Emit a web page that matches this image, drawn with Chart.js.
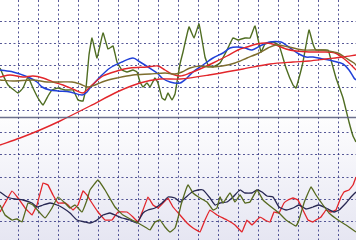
<!DOCTYPE html>
<html><head><meta charset="utf-8">
<script src="https://cdn.jsdelivr.net/npm/chart.js@4"></script>
<style>
html,body{margin:0;padding:0;width:356px;height:240px;overflow:hidden;background:#ffffff;}
canvas{display:block;}
</style></head>
<body><canvas id="c" width="356" height="240"></canvas>
<script>
// Top panel: price and moving averages
const priceX=[0,0.75,2,4.5,5.75,7,8.25,9.5,10.75,12,13,14.5,16.25,18.25,19.5,20.75,21.5,22.25,23,24.25,25.75,27,28.25,29.25,30.5,31.75,33.25,34.25,35,35.75,36.75,37.5,38.75,39.5,40.5,41.25,42,43,43.75,44.25,45,45.75,47.25,48.5,49.75,51.25,52,53.25,55,56.75,58.25,59.5,61.25,62.5,63.75,65.25,66.25,68.25,69.75,71.5,73.25,74,74.75,75.75,77.25,78.25,79,82,82.75,84,85.75,87.25,88.25,89];
const priceY=[86,82.5,77.5,73.5,76,81.5,76,71,67.5,72,75,76,75,75,70,69.5,76,92.5,101,91,103.5,95.5,97,89,85,84,85,84,79,76.5,78.5,76.5,81,78.5,71,70,73.5,70,73,79,88,94,106.5,101,108,91.5,87.5,86.5,88.5,95,101,100,101,101,107,94,98,99,97.5,86,77.5,76,81,89,105,98,95,95,90,81,71,59,52,49];
const fastX=[0,3.25,7,9.25,10.5,12.5,14.5,17.5,20.5,21.75,22.5,25,27.5,30.5,33.25,35,37,39.25,40.5,42.5,45,46.75,48.25,50.75,53.25,55.75,57.5,59.25,61.25,63,65,67.5,70.25,71.5,73.25,74.75,76.5,78.25,80.75,83.25,85.75,87.25,88.5,89];
const fastY=[85,84,81.5,79,76.5,75,74.5,74,72.5,74,76,81.5,86,89,91,89,86.5,83.5,81,79,78.5,81,84,87.5,91,93.5,96,96.5,96,95,97,99,99,97.5,95,93,91.5,91.5,90.5,89.5,88,85,81,80];
const midX=[0,2.5,5.75,8.25,10.75,13.25,15.75,18.75,20.75,21.75,23,25.75,29.25,32.5,36.75,39.5,41.25,43,45,47.5,50,53.25,56.75,59.5,61.75,64.25,66.5,69,71.5,74,77.25,80.75,83.75,85.75,87.25,89];
const midY=[81.5,82.5,81.5,82,81,79,77.5,75,73.5,75,77.5,82,84.5,86,86.5,87,85,83,82,83.5,85.5,88.5,92,95,96.5,98,98.5,97.5,95.5,94.5,94,94,93.5,91,88.5,85];
const slowX=[0,3.25,8.25,11.75,15,18,20,22,23.75,26.25,29.25,33.25,37.5,41.25,43.75,45.5,47.5,50,52.5,55.5,58.75,61.75,64.75,67,69,72.25,75.75,79.75,82.25,84.5,86.5,88.5,89];
const slowY=[80,79.5,80,79,79,79,78,76.5,77.5,79.5,81,82.5,83,83.5,83,84,86,87,86.5,87,88.5,91,93.5,96,97.5,96.5,95,95,94.5,93.5,91,88.5,87.5];
const longX=[0,5,10,15,22.5,29.25,35,40,45,52.25,60.75,67.5,73.25,77.25,81.5,85.75,89];
const longY=[47.5,51,55,59.5,67,74,78.5,80.5,80.5,82.5,85.5,88,89,89.5,90.5,91.5,92.5];
const dividerX=[0,89];
const dividerY=[61.25,61.25];
// Bottom panel: oscillators
const oscNavyX=[0,1.75,3.75,5.75,8,9.25,10.75,12.5,14.25,15.75,17.5,19.25,21.25,22.5,24.25,25.75,27.5,28.75,30.5,32.5,34.25,35.75,37,38.75,40.5,42,43.75,45,46.25,48,49.5,50.75,52.5,53.75,55,56.75,58.25,60,61.25,63,64.25,65.5,66.75,68.25,69.75,71.5,73.25,74.75,76.5,78.25,79.75,81.5,83.5,84.75,86.5,87.75,89];
const oscNavyY=[24,21.5,20.5,20,18.5,16.5,17.5,18.5,17.5,16,13.5,10,9,8.5,10,12.5,13.5,12.5,11,10,8.5,13.5,15,16,18.5,21.5,21,19,21,24,25,25,21,17.5,18.5,19,21.5,25,23.5,23.5,25,24,22,21.5,16.5,15,16,17.5,15.5,16.5,17.5,16,14,15,18.5,21.5,24];
const oscRedX=[0,1.25,3,4.5,6.25,8,9.25,10.75,12,13.25,14.5,16.25,17,18.25,19.5,20.75,21.75,22.5,24.5,26.25,28,29.5,31.75,33.25,34.5,35.75,37,38.25,39.5,40.75,42,43.25,45,46.75,48.25,50,51.25,52.5,54.25,56.75,58.75,60.5,61.75,63,65,66.25,67.5,68.5,69.75,71,72,73.25,74.5,75.75,77,78.25,79,80.25,81.5,82.75,84,85.25,86,87.25,88.25,89];
const oscRedY=[14,18.5,24.5,21,16,12.5,17.5,28.5,27.5,22.5,18.5,18.5,17.5,15,17.5,24.5,22.5,20,14,10,10,14,14,11.5,9,15,21.5,17.5,16,18.5,21,16.5,12.5,8.5,6,4,10,15,12.5,10,7.5,4,10,7.5,11.5,10,9,14,13.5,18.5,20,21,20,15,10,9,10,11.5,15,14,15,21.5,24,25,27.5,31.5];
const oscGreenX=[0,1.25,3,4.25,5.5,7,8.25,10,11.25,13,14.5,16.25,17.5,18.75,20.5,21.75,22.5,24.5,26.25,28.75,30.75,33,34.5,36.25,37.5,38.75,40,41.25,42.5,43.75,44.5,45.25,47,48.25,50,51.75,53.25,54.25,55,55.75,57.5,58.75,60,61.25,62.5,64.25,65.75,67.5,69.75,71.5,74,74.75,76,77.75,79,80.75,82.25,84.5,86.5,89];
const oscGreenY=[17.5,12.5,10,10.5,9,18.5,17.5,13.5,11,16,21.5,18.5,16,17.5,14,20,25,30,25,16.5,12.5,10,8.5,6.5,5,9,10,6.5,4,6,11,17.5,27.5,23.5,21,19,15,16,21.5,18.5,23.5,19,22.5,18.5,19,25,20,17,13.5,10,7,10,18.5,26.5,22.5,17.5,13.5,10,7.5,4];

const pts=(xs,ys)=>xs.map((x,i)=>({x:x,y:ys[i]}));
const ds=(xs,ys,color,w,t)=>({data:pts(xs,ys),borderColor:color,borderWidth:w,pointRadius:0,tension:t,fill:false});

const xGrid=[];for(let k=0;k<17;k++)xGrid.push(4.625+5*k);
const yGrid=[];for(let k=0;k<10;k++)yGrid.push(109.5-11.15*k);
const gridColor='rgba(45,48,125,0.8)';

const bgPlugin={id:'bg',beforeDraw(chart){
  const c=chart.ctx,w=chart.width,h=chart.height;
  const g=c.createLinearGradient(0,0,0,h);
  g.addColorStop(0,'#ffffff');g.addColorStop(0.45,'#ffffff');g.addColorStop(1,'#e6e6f2');
  c.save();c.fillStyle=g;c.fillRect(0,0,w,h);c.restore();
}};

new Chart(document.getElementById('c'),{
  type:'line',
  plugins:[bgPlugin],
  data:{datasets:[
    ds(dividerX,dividerY,'rgba(92,96,128,0.9)',1.6,0),
    ds(longX,longY,'#e2262b',1.4,0.3),
    ds(slowX,slowY,'#7d6d2e',1.4,0.3),
    ds(midX,midY,'#e2262b',1.4,0.3),
    ds(fastX,fastY,'#2040d8',1.5,0.3),
    ds(priceX,priceY,'#4f6d22',1.4,0.1),
    ds(oscGreenX,oscGreenY,'#56691f',1.3,0.1),
    ds(oscNavyX,oscNavyY,'#272752',1.3,0.15),
    ds(oscRedX,oscRedY,'#e2262b',1.3,0.05)
  ]},
  options:{
    responsive:false,animation:false,
    layout:{padding:0},
    plugins:{legend:{display:false},tooltip:{enabled:false}},
    scales:{
      x:{type:'linear',min:0,max:89,
        afterBuildTicks:s=>{s.ticks=xGrid.map(v=>({value:v}));},
        afterFit:s=>{s.height=0;},
        ticks:{display:false},
        grid:{color:gridColor,lineWidth:1,drawTicks:false},
        border:{display:false,dash:[2,2.5]}},
      y:{type:'linear',min:0,max:120,
        afterBuildTicks:s=>{s.ticks=yGrid.map(v=>({value:v}));},
        afterFit:s=>{s.width=0;},
        ticks:{display:false},
        grid:{color:gridColor,lineWidth:1,drawTicks:false},
        border:{display:false,dash:[2,2.5]}}
    }
  }
});
</script></body></html>
